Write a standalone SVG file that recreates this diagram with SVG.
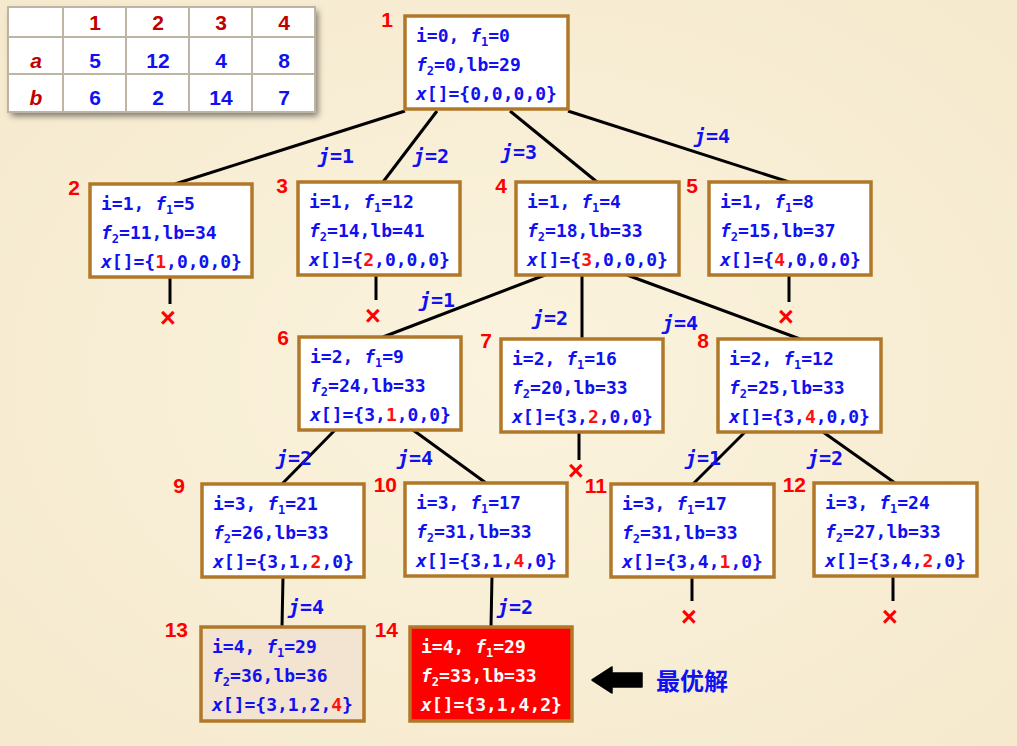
<svg xmlns="http://www.w3.org/2000/svg" width="1017" height="746" viewBox="0 0 1017 746">
<defs>
<radialGradient id="bg" cx="50%" cy="50%" r="75%">
<stop offset="0" stop-color="#fbf3de"/>
<stop offset="1" stop-color="#f5e9cc"/>
</radialGradient>
<linearGradient id="ol" x1="0" y1="0" x2="1" y2="0">
<stop offset="0" stop-color="#e9a84c" stop-opacity="0.3"/>
<stop offset="0.3" stop-color="#e9a84c"/>
<stop offset="1" stop-color="#e9a84c"/>
</linearGradient>
<filter id="sh" x="-10%" y="-10%" width="125%" height="130%">
<feDropShadow dx="3" dy="4" stdDeviation="3" flood-color="#000" flood-opacity="0.5"/>
</filter>
<style>
.box{fill:#fff;stroke:#b07828;stroke-width:3.5}
.t{font-family:"DejaVu Sans Mono","Liberation Mono",monospace;font-weight:bold;font-size:18px;fill:#1010f0}
.w{fill:#fff}
.it{font-style:italic}
.sub{font-size:12px}
.r{fill:#ff1010}
.num{font-family:"Liberation Sans","DejaVu Sans",sans-serif;font-weight:bold;font-size:21px;fill:#ff0000;text-anchor:end}
.lbl{font-family:"DejaVu Sans Mono","Liberation Mono",monospace;font-weight:bold;font-size:20px;fill:#1010f0}
.edge{stroke:#000;stroke-width:3;fill:none}
.x{font-family:"Liberation Sans","DejaVu Sans",sans-serif;font-weight:bold;font-size:27px;fill:#ff0000;text-anchor:middle}
.tg{stroke:#bdb4a4;stroke-width:2}
.th{font-family:"Liberation Sans","DejaVu Sans",sans-serif;font-weight:bold;font-size:21px;fill:#c00000;text-anchor:middle}
.tv{font-family:"Liberation Sans","DejaVu Sans",sans-serif;font-weight:bold;font-size:21px;fill:#1010f0;text-anchor:middle}
</style>
</defs>
<rect width="1017" height="746" fill="url(#bg)"/>
<line x1="0" y1="117" x2="1017" y2="117" stroke="url(#ol)" stroke-width="2"/>

<g id="table">
<rect x="8" y="7" width="307" height="105" fill="#fff" filter="url(#sh)"/>
<rect x="8" y="7" width="307" height="105" fill="#fff" class="tg"/>
<line class="tg" x1="8" y1="37" x2="315" y2="37"/>
<line class="tg" x1="8" y1="74" x2="315" y2="74"/>
<line class="tg" x1="63" y1="7" x2="63" y2="112"/>
<line class="tg" x1="126" y1="7" x2="126" y2="112"/>
<line class="tg" x1="189" y1="7" x2="189" y2="112"/>
<line class="tg" x1="252" y1="7" x2="252" y2="112"/>
<text class="th" x="95" y="30">1</text>
<text class="th" x="158" y="30">2</text>
<text class="th" x="221" y="30">3</text>
<text class="th" x="284" y="30">4</text>
<text class="th" x="36" y="68" font-style="italic">a</text>
<text class="th" x="36" y="105" font-style="italic">b</text>
<text class="tv" x="95" y="68">5</text>
<text class="tv" x="158" y="68">12</text>
<text class="tv" x="221" y="68">4</text>
<text class="tv" x="284" y="68">8</text>
<text class="tv" x="95" y="105">6</text>
<text class="tv" x="158" y="105">2</text>
<text class="tv" x="221" y="105">14</text>
<text class="tv" x="284" y="105">7</text>
</g>

<g id="connectors">
<line class="edge" x1="405" y1="111" x2="175" y2="184"/>
<line class="edge" x1="437" y1="111" x2="383" y2="182"/>
<line class="edge" x1="510" y1="111" x2="597" y2="182"/>
<line class="edge" x1="568" y1="111" x2="789" y2="182"/>
<line class="edge" x1="170" y1="277" x2="170" y2="304"/>
<line class="edge" x1="376" y1="275" x2="376" y2="300"/>
<line class="edge" x1="789" y1="275" x2="789" y2="302"/>
<line class="edge" x1="545" y1="275" x2="383" y2="337"/>
<line class="edge" x1="582" y1="275" x2="582" y2="339"/>
<line class="edge" x1="627" y1="275" x2="800" y2="339"/>
<line class="edge" x1="579" y1="432" x2="579" y2="460"/>
<line class="edge" x1="335" y1="430" x2="282" y2="484"/>
<line class="edge" x1="413" y1="430" x2="486" y2="483"/>
<line class="edge" x1="745" y1="432" x2="693" y2="484"/>
<line class="edge" x1="823" y1="432" x2="895" y2="483"/>
<line class="edge" x1="283" y1="577" x2="282" y2="627"/>
<line class="edge" x1="492" y1="576" x2="491" y2="627"/>
<line class="edge" x1="692" y1="577" x2="692" y2="601"/>
<line class="edge" x1="893" y1="576" x2="893" y2="601"/>
<text class="lbl" x="318" y="163"><tspan class="it">j</tspan>=1</text>
<text class="lbl" x="413" y="163"><tspan class="it">j</tspan>=2</text>
<text class="lbl" x="501" y="159"><tspan class="it">j</tspan>=3</text>
<text class="lbl" x="694" y="143"><tspan class="it">j</tspan>=4</text>
<text class="lbl" x="419" y="307"><tspan class="it">j</tspan>=1</text>
<text class="lbl" x="532" y="325"><tspan class="it">j</tspan>=2</text>
<text class="lbl" x="662" y="330"><tspan class="it">j</tspan>=4</text>
<text class="lbl" x="276" y="465"><tspan class="it">j</tspan>=2</text>
<text class="lbl" x="397" y="465"><tspan class="it">j</tspan>=4</text>
<text class="lbl" x="685" y="465"><tspan class="it">j</tspan>=1</text>
<text class="lbl" x="807" y="465"><tspan class="it">j</tspan>=2</text>
<text class="lbl" x="288" y="614"><tspan class="it">j</tspan>=4</text>
<text class="lbl" x="497" y="614"><tspan class="it">j</tspan>=2</text>
<text class="x" x="168" y="327">×</text>
<text class="x" x="373" y="325">×</text>
<text class="x" x="786" y="326">×</text>
<text class="x" x="576" y="480">×</text>
<text class="x" x="689" y="626">×</text>
<text class="x" x="890" y="626">×</text>
</g>

<g id="n1">
<rect class="box" x="405" y="16" width="163" height="93"/>
<text class="num" x="393" y="27">1</text>
<text class="t" x="416" y="42">i=0, <tspan class="it">f</tspan><tspan class="sub" dy="4">1</tspan><tspan dy="-4">=0</tspan></text>
<text class="t" x="416" y="71"><tspan class="it">f</tspan><tspan class="sub" dy="4">2</tspan><tspan dy="-4">=0,lb=29</tspan></text>
<text class="t" x="416" y="100"><tspan class="it">x</tspan>[]={0,0,0,0}</text>
</g>

<g id="n2">
<rect class="box" x="90" y="184" width="162" height="93"/>
<text class="num" x="80" y="195">2</text>
<text class="t" x="101" y="210">i=1, <tspan class="it">f</tspan><tspan class="sub" dy="4">1</tspan><tspan dy="-4">=5</tspan></text>
<text class="t" x="101" y="239"><tspan class="it">f</tspan><tspan class="sub" dy="4">2</tspan><tspan dy="-4">=11,lb=34</tspan></text>
<text class="t" x="101" y="268"><tspan class="it">x</tspan>[]={<tspan class="r">1</tspan>,0,0,0}</text>
</g>

<g id="n3">
<rect class="box" x="298" y="182" width="162" height="93"/>
<text class="num" x="288" y="193">3</text>
<text class="t" x="309" y="208">i=1, <tspan class="it">f</tspan><tspan class="sub" dy="4">1</tspan><tspan dy="-4">=12</tspan></text>
<text class="t" x="309" y="237"><tspan class="it">f</tspan><tspan class="sub" dy="4">2</tspan><tspan dy="-4">=14,lb=41</tspan></text>
<text class="t" x="309" y="266"><tspan class="it">x</tspan>[]={<tspan class="r">2</tspan>,0,0,0}</text>
</g>

<g id="n4">
<rect class="box" x="516" y="182" width="163" height="93"/>
<text class="num" x="507" y="193">4</text>
<text class="t" x="527" y="208">i=1, <tspan class="it">f</tspan><tspan class="sub" dy="4">1</tspan><tspan dy="-4">=4</tspan></text>
<text class="t" x="527" y="237"><tspan class="it">f</tspan><tspan class="sub" dy="4">2</tspan><tspan dy="-4">=18,lb=33</tspan></text>
<text class="t" x="527" y="266"><tspan class="it">x</tspan>[]={<tspan class="r">3</tspan>,0,0,0}</text>
</g>

<g id="n5">
<rect class="box" x="709" y="182" width="162" height="93"/>
<text class="num" x="698" y="193">5</text>
<text class="t" x="720" y="208">i=1, <tspan class="it">f</tspan><tspan class="sub" dy="4">1</tspan><tspan dy="-4">=8</tspan></text>
<text class="t" x="720" y="237"><tspan class="it">f</tspan><tspan class="sub" dy="4">2</tspan><tspan dy="-4">=15,lb=37</tspan></text>
<text class="t" x="720" y="266"><tspan class="it">x</tspan>[]={<tspan class="r">4</tspan>,0,0,0}</text>
</g>

<g id="n6">
<rect class="box" x="299" y="337" width="162" height="93"/>
<text class="num" x="289" y="345">6</text>
<text class="t" x="310" y="363">i=2, <tspan class="it">f</tspan><tspan class="sub" dy="4">1</tspan><tspan dy="-4">=9</tspan></text>
<text class="t" x="310" y="392"><tspan class="it">f</tspan><tspan class="sub" dy="4">2</tspan><tspan dy="-4">=24,lb=33</tspan></text>
<text class="t" x="310" y="421"><tspan class="it">x</tspan>[]={3,<tspan class="r">1</tspan>,0,0}</text>
</g>

<g id="n7">
<rect class="box" x="501" y="339" width="162" height="93"/>
<text class="num" x="492" y="348">7</text>
<text class="t" x="512" y="365">i=2, <tspan class="it">f</tspan><tspan class="sub" dy="4">1</tspan><tspan dy="-4">=16</tspan></text>
<text class="t" x="512" y="394"><tspan class="it">f</tspan><tspan class="sub" dy="4">2</tspan><tspan dy="-4">=20,lb=33</tspan></text>
<text class="t" x="512" y="423"><tspan class="it">x</tspan>[]={3,<tspan class="r">2</tspan>,0,0}</text>
</g>

<g id="n8">
<rect class="box" x="718" y="339" width="163" height="93"/>
<text class="num" x="709" y="348">8</text>
<text class="t" x="729" y="365">i=2, <tspan class="it">f</tspan><tspan class="sub" dy="4">1</tspan><tspan dy="-4">=12</tspan></text>
<text class="t" x="729" y="394"><tspan class="it">f</tspan><tspan class="sub" dy="4">2</tspan><tspan dy="-4">=25,lb=33</tspan></text>
<text class="t" x="729" y="423"><tspan class="it">x</tspan>[]={3,<tspan class="r">4</tspan>,0,0}</text>
</g>

<g id="n9">
<rect class="box" x="202" y="484" width="162" height="93"/>
<text class="num" x="185" y="493">9</text>
<text class="t" x="213" y="510">i=3, <tspan class="it">f</tspan><tspan class="sub" dy="4">1</tspan><tspan dy="-4">=21</tspan></text>
<text class="t" x="213" y="539"><tspan class="it">f</tspan><tspan class="sub" dy="4">2</tspan><tspan dy="-4">=26,lb=33</tspan></text>
<text class="t" x="213" y="568"><tspan class="it">x</tspan>[]={3,1,<tspan class="r">2</tspan>,0}</text>
</g>

<g id="n10">
<rect class="box" x="405" y="483" width="162" height="93"/>
<text class="num" x="397" y="492">10</text>
<text class="t" x="416" y="509">i=3, <tspan class="it">f</tspan><tspan class="sub" dy="4">1</tspan><tspan dy="-4">=17</tspan></text>
<text class="t" x="416" y="538"><tspan class="it">f</tspan><tspan class="sub" dy="4">2</tspan><tspan dy="-4">=31,lb=33</tspan></text>
<text class="t" x="416" y="567"><tspan class="it">x</tspan>[]={3,1,<tspan class="r">4</tspan>,0}</text>
</g>

<g id="n11">
<rect class="box" x="611" y="484" width="163" height="93"/>
<text class="num" x="607" y="493">11</text>
<text class="t" x="622" y="510">i=3, <tspan class="it">f</tspan><tspan class="sub" dy="4">1</tspan><tspan dy="-4">=17</tspan></text>
<text class="t" x="622" y="539"><tspan class="it">f</tspan><tspan class="sub" dy="4">2</tspan><tspan dy="-4">=31,lb=33</tspan></text>
<text class="t" x="622" y="568"><tspan class="it">x</tspan>[]={3,4,<tspan class="r">1</tspan>,0}</text>
</g>

<g id="n12">
<rect class="box" x="814" y="483" width="163" height="93"/>
<text class="num" x="806" y="492">12</text>
<text class="t" x="825" y="509">i=3, <tspan class="it">f</tspan><tspan class="sub" dy="4">1</tspan><tspan dy="-4">=24</tspan></text>
<text class="t" x="825" y="538"><tspan class="it">f</tspan><tspan class="sub" dy="4">2</tspan><tspan dy="-4">=27,lb=33</tspan></text>
<text class="t" x="825" y="567"><tspan class="it">x</tspan>[]={3,4,<tspan class="r">2</tspan>,0}</text>
</g>

<g id="n13">
<rect class="box" x="201" y="627" width="163" height="94" style="fill:#f3e3d1"/>
<text class="num" x="188" y="637">13</text>
<text class="t" x="212" y="653">i=4, <tspan class="it">f</tspan><tspan class="sub" dy="4">1</tspan><tspan dy="-4">=29</tspan></text>
<text class="t" x="212" y="682"><tspan class="it">f</tspan><tspan class="sub" dy="4">2</tspan><tspan dy="-4">=36,lb=36</tspan></text>
<text class="t" x="212" y="711"><tspan class="it">x</tspan>[]={3,1,2,<tspan class="r">4</tspan>}</text>
</g>

<g id="n14">
<rect class="box" x="410" y="627" width="162" height="94" style="fill:#ff0000"/>
<text class="num" x="398" y="637">14</text>
<text class="t w" x="421" y="653">i=4, <tspan class="it">f</tspan><tspan class="sub" dy="4">1</tspan><tspan dy="-4">=29</tspan></text>
<text class="t w" x="421" y="682"><tspan class="it">f</tspan><tspan class="sub" dy="4">2</tspan><tspan dy="-4">=33,lb=33</tspan></text>
<text class="t w" x="421" y="711"><tspan class="it">x</tspan>[]={3,1,4,2}</text>
</g>

<g id="best">
<polygon points="592,680 612,667 612,673 642,673 642,687 612,687 612,693" fill="#000" stroke="#000" stroke-width="1.5" stroke-linejoin="round"/>
<text x="656" y="690" font-family="'Noto Sans CJK SC',sans-serif" font-weight="bold" font-size="24" fill="#1010f0">最优解</text>
</g>
</svg>
